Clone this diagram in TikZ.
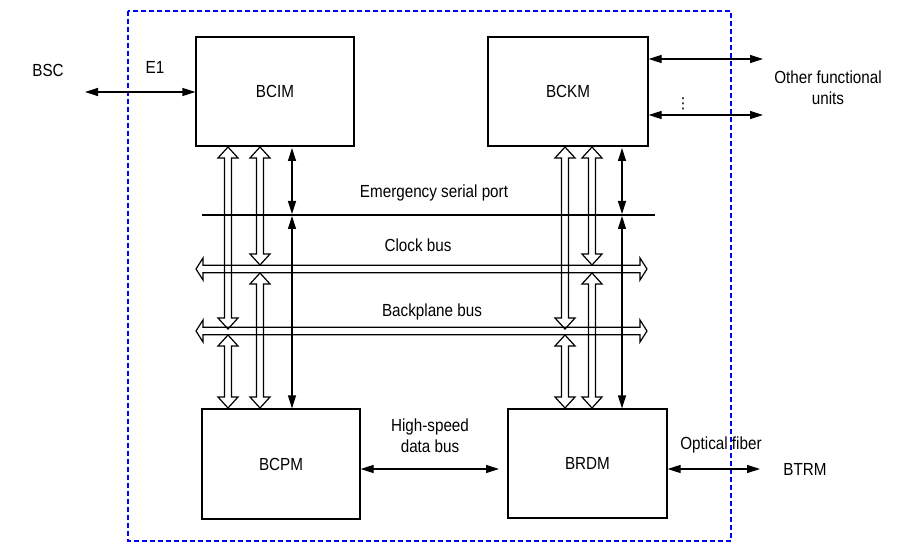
\documentclass[tikz,border=0pt]{standalone}
\usepackage{fontspec}
\setmainfont{Liberation Sans}[FakeStretch=0.87]
\newfontfamily\dejavu{DejaVu Sans}
\usetikzlibrary{arrows.meta,calc}

\tikzset{
  box/.style={draw, line width=1.2pt, inner sep=0pt},
  lbl/.style={font=\fontsize{17.5}{21}\selectfont, inner sep=0pt, align=center},
  thinline/.style={line width=1.2pt},
  tipped/.style={line width=1.2pt, {Triangle[length=13pt,width=8pt]}-{Triangle[length=13pt,width=8pt]}},
  hollow/.style={line width=1.2pt, line join=miter},
  frame/.style={blue, line width=1.3pt, dash pattern=on 5pt off 3pt}
}

% vertical hollow double-headed arrow: x, y top tip, y bottom tip
\newcommand\hollowV[3]{%
  \pgfmathsetmacro\hvA{#1-3.5}\pgfmathsetmacro\hvB{#1+3.5}%
  \pgfmathsetmacro\hvC{#1-10}\pgfmathsetmacro\hvD{#1+10}%
  \pgfmathsetmacro\hvE{#2+11}\pgfmathsetmacro\hvF{#3-11}%
  \draw[hollow] (#1,#2) -- (\hvD,\hvE) -- (\hvB,\hvE) -- (\hvB,\hvF) -- (\hvD,\hvF)
    -- (#1,#3) -- (\hvC,\hvF) -- (\hvA,\hvF) -- (\hvA,\hvE) -- (\hvC,\hvE) -- cycle;}
% horizontal hollow double-headed bus: x left tip, x right tip, y centre
\newcommand\hollowH[3]{%
  \pgfmathsetmacro\hhA{#3-3.7}\pgfmathsetmacro\hhB{#3+3.7}%
  \pgfmathsetmacro\hhC{#3-11}\pgfmathsetmacro\hhD{#3+11}%
  \pgfmathsetmacro\hhE{#1+7}\pgfmathsetmacro\hhF{#2-7}%
  \draw[hollow] (#1,#3) -- (\hhE,\hhC) -- (\hhE,\hhA) -- (\hhF,\hhA) -- (\hhF,\hhC)
    -- (#2,#3) -- (\hhF,\hhD) -- (\hhF,\hhB) -- (\hhE,\hhB) -- (\hhE,\hhD) -- cycle;}

\begin{document}
\begin{tikzpicture}[x=1pt,y=-1pt]
\useasboundingbox (0,0) rectangle (904,545);
\fill[white] (0,0) rectangle (904,545);

% frame
\draw[frame] (128,11) rectangle (731,541);

% boxes
\node[box, minimum width=158pt, minimum height=109pt] (bcim) at (275,91.5) {};
\node[box, minimum width=160pt, minimum height=109pt] (bckm) at (568,91.5) {};
\node[box, minimum width=158pt, minimum height=110pt] (bcpm) at (281,464) {};
\node[box, minimum width=159pt, minimum height=109pt] (brdm) at (587.5,463.5) {};
\node[lbl] at (bcim) {BCIM};
\node[lbl] at (bckm) {BCKM};
\node[lbl] at (bcpm) {BCPM};
\node[lbl] at (brdm) {BRDM};

% external labels
\node[lbl] (bsc) at (48,70) {BSC};
\node[lbl] (e1) at (155,67) {E1};
\node[lbl] (other) at (828,88) {Other functional\\units};
\node[lbl] (hs) at (430,436) {High-speed\\data bus};
\node[lbl] (opt) at (721,445) {Optical fiber};
\node[lbl] (btrm) at (805,469) {BTRM};
\node[lbl] (esp) at (434,193) {Emergency serial port};
\node[lbl] (clk) at (418,245) {Clock bus};
\node[lbl] (bpb) at (432,312) {Backplane bus};
\node[font=\dejavu\fontsize{15}{15}\selectfont, inner sep=0pt] (dots) at (683,104) {⋮};

% coordinates
\coordinate (bscend) at (85,92);
\coordinate (oth1) at (763,59);
\coordinate (oth2) at (763,115);
\coordinate (btrmend) at (760,469);
\coordinate (hsend) at (499,469);
\coordinate (espL) at (202,215);
\coordinate (espR) at (655,215);

% thin connectors
\draw[tipped] (bscend) -- (bscend -| bcim.west);
\draw[tipped] (bckm.east |- oth1) -- (oth1);
\draw[tipped] (bckm.east |- oth2) -- (oth2);
\draw[tipped] (bcpm.east |- hsend) -- (hsend);
\draw[tipped] (brdm.east |- btrmend) -- (btrmend);

% emergency serial port
\draw[thinline] (espL) -- (espR);
% buses
\hollowH{196}{647}{269}
\hollowH{196}{647}{331}

% left vertical connectors
\hollowV{228}{147}{329}
\hollowV{228}{335}{408}
\hollowV{260}{147}{265}
\hollowV{260}{273}{408}
\draw[tipped] (292,148) -- (292,214);
\draw[tipped] (292,216) -- (bcpm.north -| 292,0);

% right vertical connectors
\hollowV{565}{147}{329}
\hollowV{565}{335}{408}
\hollowV{592}{147}{265}
\hollowV{592}{273}{408}
\draw[tipped] (622,148) -- (622,214);
\draw[tipped] (622,216) -- (brdm.north -| 622,0);
\end{tikzpicture}
\end{document}
